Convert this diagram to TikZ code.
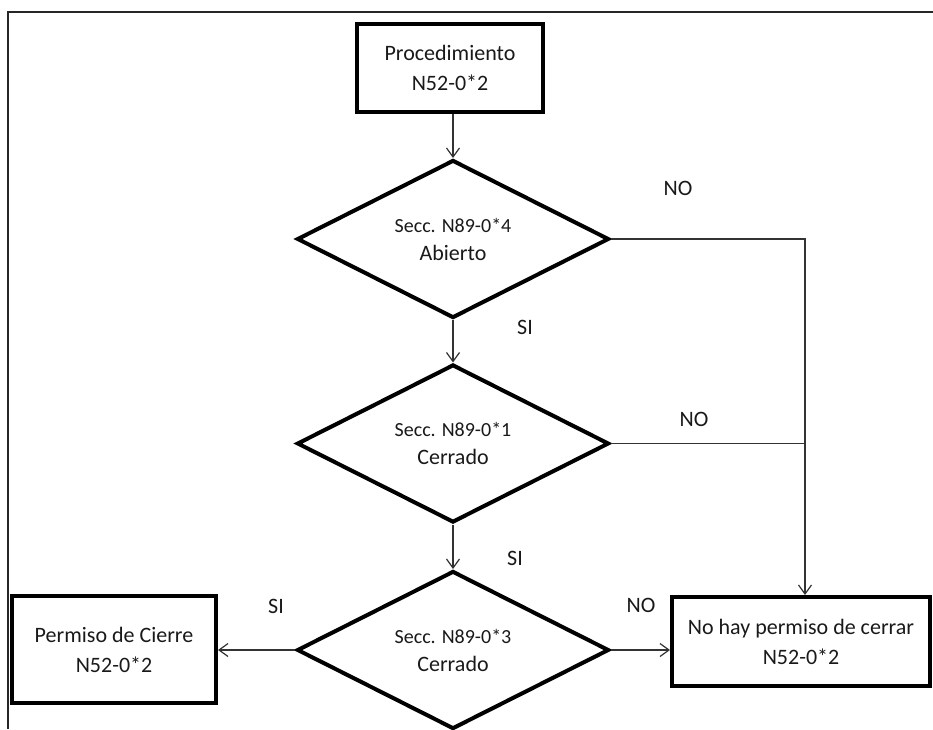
\documentclass[tikz,border=0pt]{standalone}
\usepackage{fontspec}
\setmainfont{Carlito}
\usetikzlibrary{shapes.geometric,arrows.meta}

\tikzset{
  caja/.style={draw, line width=4pt, inner sep=0pt, align=center, text=black!90,
    font=\fontsize{22}{30}\selectfont},
  rombo/.style={diamond, draw, line width=4pt, inner sep=0pt, aspect=2,
    minimum width=312pt, minimum height=158pt, align=center, text=black!90,
    font=\fontsize{22}{28}\selectfont},
  flecha/.style={-{Straight Barb[length=9pt,width=13pt]}, line width=1.2pt, black!80},
  linea/.style={line width=1.2pt, black!80},
  etiqueta/.style={text=black!90, font=\fontsize{22}{26}\selectfont},
}

\begin{document}
\begin{tikzpicture}[x=1pt,y=-1pt]
    \useasboundingbox (0,0) rectangle (933,729);

    % dibuja marco
    \draw[line width=2.5pt, black!85] (933,12) -- (8,12) -- (8,729);

    % dibuja cajas
    \node[caja, line width=4.5pt, minimum width=186pt, minimum height=88pt] (proc) at (450,68) {Procedimiento\\N52-0*2};
    \node[caja, minimum width=204pt, minimum height=107pt] (permiso) at (114,649.5) {Permiso de Cierre\\N52-0*2};
    \node[caja, minimum width=258pt, minimum height=89pt] (nopermiso) at (801,641.5) {No hay permiso de cerrar\\N52-0*2};

    % dibuja rombos
    \node[rombo] (secc4) at (453,239) {{\fontsize{20}{28}\selectfont Secc. N89-0*4}\\Abierto};
    \node[rombo] (secc1) at (453,443.5) {{\fontsize{20}{28}\selectfont Secc. N89-0*1}\\Cerrado};
    \node[rombo] (secc3) at (453,650) {{\fontsize{20}{28}\selectfont Secc. N89-0*3}\\Cerrado};

    % dibuja conexiones
    \coordinate (esquina) at (805,239);
    \draw[flecha] (secc4.north |- proc.south) -- (secc4.north);
    \draw[flecha] (secc4.south) -- (secc1.north);
    \draw[flecha] (secc1.south) -- (secc3.north);
    \draw[flecha] (secc3.west) -- (secc3.west -| permiso.east);
    \draw[flecha] (secc3.east) -- (secc3.east -| nopermiso.west);
    \draw[flecha] (secc4.east) -- (esquina) -- (esquina |- nopermiso.north);
    \draw[linea] (secc1.east) -- (secc1.east -| esquina);

    % dibuja etiquetas
    \node[etiqueta] (no1) at (678,188) {NO};
    \node[etiqueta] (no2) at (694,419) {NO};
    \node[etiqueta] (no3) at (641,605) {NO};
    \node[etiqueta] (si1) at (525,327) {SI};
    \node[etiqueta] (si2) at (515,558) {SI};
    \node[etiqueta] (si3) at (276,606) {SI};
\end{tikzpicture}
\end{document}
